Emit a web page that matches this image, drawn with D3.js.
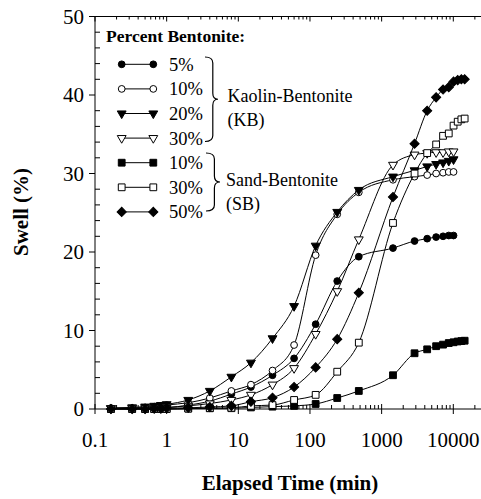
<!DOCTYPE html>
<html>
<head>
<meta charset="utf-8">
<script src="https://cdn.jsdelivr.net/npm/d3@7"></script>
<style>
  body { margin: 0; background: #fff; }
  svg { display: block; }
</style>
</head>
<body>
<svg id="chart"></svg>
<script>
// elapsed time (min) at which readings were taken
const timesKB = [0.167, 0.33, 0.5, 0.67, 0.83, 1, 2, 4, 8, 15, 30, 60, 120, 240, 480,
    1440, 2880, 4320, 5760, 7200, 8640, 10080];
const timesSB = [0.167, 0.33, 0.5, 0.67, 0.83, 1, 2, 4, 8, 15, 30, 60, 120, 240, 480,
    1440, 2880, 4320, 5760, 7200, 8640, 10080, 11520, 12960, 14400];

// swell (%)
const kb5 = [0.1, 0.1, 0.15, 0.15, 0.2, 0.2, 0.5, 1.0, 1.9, 2.8, 4.3, 6.45, 10.8, 16.3, 19.4,
    20.5, 21.4, 21.7, 21.9, 22.0, 22.1, 22.1];
const kb10 = [0.1, 0.1, 0.2, 0.3, 0.4, 0.5, 0.8, 1.4, 2.3, 3.1, 4.9, 8.15, 19.6, 24.8, 27.6,
    29.2, 29.6, 29.8, 30.0, 30.1, 30.2, 30.2];
const kb20 = [0.1, 0.2, 0.3, 0.4, 0.5, 0.6, 1.15, 2.3, 4.1, 5.9, 9.0, 13.1, 20.8, 25.1, 27.9,
    29.6, 30.4, 30.9, 31.2, 31.4, 31.6, 31.8];
const kb30 = [0.1, 0.1, 0.1, 0.15, 0.15, 0.2, 0.4, 0.7, 1.15, 1.8, 3.1, 5.2, 9.55, 15.0, 21.6,
    31.1, 32.4, 32.6, 32.7, 32.7, 32.8, 32.8];
const sb10 = [0, 0, 0, 0, 0, 0, 0.05, 0.1, 0.1, 0.2, 0.3, 0.4, 0.64, 1.4, 2.3,
    4.3, 7.1, 7.6, 8.0, 8.2, 8.4, 8.5, 8.6, 8.65, 8.7];
const sb30 = [0, 0, 0, 0, 0, 0, 0.05, 0.1, 0.15, 0.4, 0.5, 1.15, 1.8, 4.75, 8.45,
    23.7, 30.0, 32.6, 33.7, 34.8, 35.1, 36.1, 36.6, 36.9, 37.0];
const sb50 = [0, 0, 0, 0.05, 0.05, 0.1, 0.15, 0.25, 0.4, 0.93, 1.44, 2.8, 5.3, 8.9, 14.8,
    27.0, 33.8, 38.0, 39.7, 40.7, 41.0, 41.7, 41.9, 42.0, 42.0];

const legendLabels = ["5%", "10%", "20%", "30%", "10%", "30%", "50%"];
const xTickLabels = ["0.1", "1", "10", "100", "1000", "10000"];
const yTicks = [0, 10, 20, 30, 40, 50];

const width = 481, height = 499;
const plotLeft = 95, plotTop = 16.5, plotBottom = 409;
const decade = 71.66;
const serif = "Liberation Serif";

const series = [
    {times: timesKB, values: kb5, shape: "circle", fill: "#000"},
    {times: timesKB, values: kb10, shape: "circle", fill: "#fff"},
    {times: timesKB, values: kb20, shape: "triangle", fill: "#000"},
    {times: timesKB, values: kb30, shape: "triangle", fill: "#fff"},
    {times: timesSB, values: sb10, shape: "square", fill: "#000"},
    {times: timesSB, values: sb30, shape: "square", fill: "#fff"},
    {times: timesSB, values: sb50, shape: "diamond", fill: "#000"}
];

const x = d3.scaleLog().domain([0.1, 100000]).range([plotLeft, plotLeft + 6 * decade]);
const y = d3.scaleLinear().domain([0, 50]).range([plotBottom, plotTop]);

const svg = d3.select("#chart")
    .attr("width", width)
    .attr("height", height)
    .attr("viewBox", [0, 0, width, height]);

// marker drawing
function marker(g, shape, fill, px, py) {
    let sym, rot = 0;
    if (shape === "circle") sym = d3.symbol(d3.symbolCircle, 36);
    else if (shape === "triangle") { sym = d3.symbol(d3.symbolTriangle, 34); rot = 180; }
    else if (shape === "square") sym = d3.symbol(d3.symbolSquare, 46);
    else { sym = d3.symbol(d3.symbolSquare, 42); rot = 45; }
    return g.append("path")
        .attr("d", sym)
        .attr("fill", fill)
        .attr("stroke", "#000")
        .attr("stroke-width", 1)
        .attr("transform", `translate(${px},${py}) rotate(${rot})`);
}

// axes frame
const axisG = svg.append("g").attr("stroke", "#000").attr("stroke-width", 1);
axisG.append("line").attr("x1", plotLeft).attr("x2", width).attr("y1", plotBottom).attr("y2", plotBottom);
axisG.append("line").attr("x1", plotLeft).attr("x2", width).attr("y1", plotTop).attr("y2", plotTop);
axisG.append("line").attr("x1", plotLeft).attr("x2", plotLeft).attr("y1", plotTop).attr("y2", plotBottom);

// x ticks (log, minor 2..9)
const xMajor = [], xMinor = [];
for (let e = -1; e <= 4; e++) {
    xMajor.push(Math.pow(10, e));
    for (let m = 2; m <= 9; m++) xMinor.push(m * Math.pow(10, e));
}
xMinor.filter(v => x(v) < width).forEach(v => {
    axisG.append("line").attr("x1", x(v)).attr("x2", x(v)).attr("y1", plotBottom).attr("y2", plotBottom - 4);
    axisG.append("line").attr("x1", x(v)).attr("x2", x(v)).attr("y1", plotTop).attr("y2", plotTop + 3);
});
xMajor.forEach(v => {
    axisG.append("line").attr("x1", x(v)).attr("x2", x(v)).attr("y1", plotBottom - 5).attr("y2", plotBottom + 5);
    axisG.append("line").attr("x1", x(v)).attr("x2", x(v)).attr("y1", plotTop).attr("y2", plotTop + 5);
});
svg.append("g").selectAll("text")
    .data(xMajor)
    .join("text")
    .attr("x", d => x(d))
    .attr("y", 447)
    .attr("text-anchor", "middle")
    .attr("font-family", serif)
    .attr("font-size", "21px")
    .text((d, i) => xTickLabels[i]);

// y ticks
d3.range(0, 51, 2).filter(v => v % 10 !== 0).forEach(v => {
    axisG.append("line").attr("x1", plotLeft).attr("x2", plotLeft + 5).attr("y1", y(v)).attr("y2", y(v));
});
yTicks.forEach(v => {
    axisG.append("line").attr("x1", plotLeft - 6).attr("x2", plotLeft).attr("y1", y(v)).attr("y2", y(v));
});
svg.append("g").selectAll("text")
    .data(yTicks)
    .join("text")
    .attr("x", 84)
    .attr("y", d => y(d))
    .attr("dy", "0.35em")
    .attr("text-anchor", "end")
    .attr("font-family", serif)
    .attr("font-size", "21px")
    .text(d => d);

// axis titles
svg.append("text")
    .attr("x", 290)
    .attr("y", 490)
    .attr("text-anchor", "middle")
    .attr("font-family", serif)
    .attr("font-size", "21px")
    .attr("font-weight", "bold")
    .text("Elapsed Time (min)");
svg.append("text")
    .attr("transform", "translate(28,212) rotate(-90)")
    .attr("text-anchor", "middle")
    .attr("font-family", serif)
    .attr("font-size", "21px")
    .attr("font-weight", "bold")
    .text("Swell (%)");

// curves
const line = d3.line().curve(d3.curveMonotoneX);
const plotG = svg.append("g");
series.forEach(s => {
    const pts = s.times.map((t, i) => [x(t), y(s.values[i])]);
    plotG.append("path")
        .attr("d", line(pts))
        .attr("fill", "none")
        .attr("stroke", "#000")
        .attr("stroke-width", 1);
    pts.forEach(p => marker(plotG, s.shape, s.fill, p[0], p[1]));
});

// legend
const lg = svg.append("g");
lg.append("text")
    .attr("x", 106)
    .attr("y", 41.5)
    .attr("font-family", serif)
    .attr("font-size", "17.5px")
    .attr("font-weight", "bold")
    .text("Percent Bentonite:");
series.forEach((s, i) => {
    const ry = 64.3 + i * 24.6;
    lg.append("line")
        .attr("x1", 121.7).attr("x2", 153.3)
        .attr("y1", ry).attr("y2", ry)
        .attr("stroke", "#000").attr("stroke-width", 1);
    [121.7, 153.3].forEach(mx => marker(lg, s.shape, s.fill, mx, ry));
    lg.append("text")
        .attr("x", 169)
        .attr("y", ry)
        .attr("dy", "0.35em")
        .attr("font-family", serif)
        .attr("font-size", "18.5px")
        .text(legendLabels[i]);
});

// curly braces
function brace(x0, y0, y1, w) {
    const ym = (y0 + y1) / 2, r = 4;
    const xm = x0 + w * 0.6;
    return `M${x0},${y0} Q${xm},${y0} ${xm},${y0 + r * 1.5}`
        + ` L${xm},${ym - r * 1.5} Q${xm},${ym} ${x0 + w},${ym}`
        + ` Q${xm},${ym} ${xm},${ym + r * 1.5}`
        + ` L${xm},${y1 - r * 1.5} Q${xm},${y1} ${x0},${y1}`;
}
lg.append("path").attr("d", brace(205, 57, 141.5, 13))
    .attr("fill", "none").attr("stroke", "#000").attr("stroke-width", 1.2);
lg.append("path").attr("d", brace(206, 153, 211, 14))
    .attr("fill", "none").attr("stroke", "#000").attr("stroke-width", 1.2);

const groupText = [
    {x: 227.5, y: 101.7, t: "Kaolin-Bentonite"},
    {x: 227.5, y: 126, t: "(KB)"},
    {x: 226, y: 185.5, t: "Sand-Bentonite"},
    {x: 226, y: 209.5, t: "(SB)"}
];
lg.selectAll("text.grp")
    .data(groupText)
    .join("text")
    .attr("class", "grp")
    .attr("x", d => d.x)
    .attr("y", d => d.y)
    .attr("font-family", serif)
    .attr("font-size", "18px")
    .text(d => d.t);
</script>
</body>
</html>
